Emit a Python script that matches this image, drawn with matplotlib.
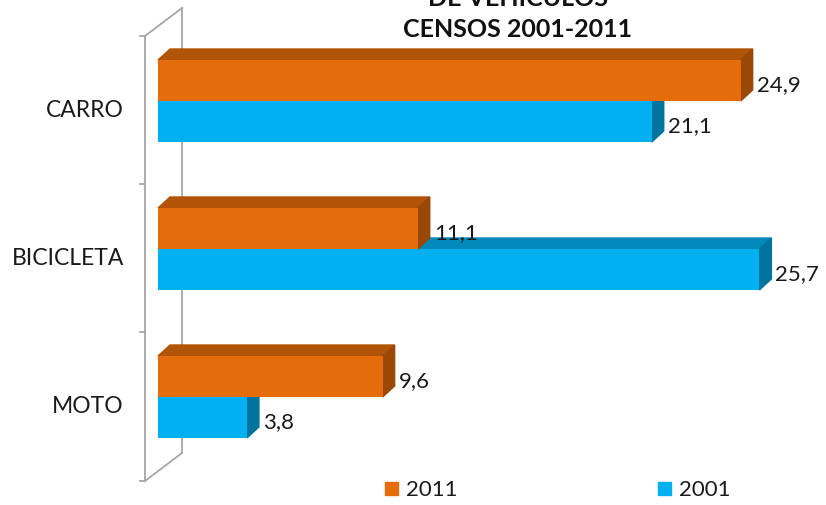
import numpy as np
import matplotlib.pyplot as plt
from matplotlib.patches import Polygon

plt.rcParams['font.family'] = ['Lato', 'DejaVu Sans']

categories = ["CARRO", "BICICLETA", "MOTO"]
years = ["2011", "2001"]
v2011 = [24.9, 11.1, 9.6]
v2001 = [21.1, 25.7, 3.8]

colors = {
    "2011": ("#E46C0A", "#B25407", "#994805"),
    "2001": ("#00B0F0", "#0089BA", "#00739E"),
}

# pixel layout of the plot area
W, H = 826, 506
X0, SX = 158, 23.4      # px of value 0, px per unit
Y0, SY = 102, 148       # px of first category line, px per category
bar_h = 41 / SY
ddx, ddy = 12 / SX, -11 / SY

fig = plt.figure(figsize=(W / 100, H / 100), dpi=100)
ax = fig.add_axes([0, 0, 1, 1])
ax.set_xlim((0 - X0) / SX, (W - X0) / SX)
ax.set_ylim((H - Y0) / SY, (0 - Y0) / SY)
ax.axis('off')


def px(x, y):
    return ((x - X0) / SX, (y - Y0) / SY)


# back wall
wall = "#A6A6A6"
fx, fy0, fy1 = 145, 37, 482
bx, by0, by1 = 182, 9, 454
for (x1, y1), (x2, y2) in [((fx, fy0), (fx, fy1)), ((bx, by0), (bx, by1)),
                           ((fx, fy0), (bx, by0)), ((fx, fy1), (bx, by1))]:
    p1, p2 = px(x1, y1), px(x2, y2)
    ax.plot([p1[0], p2[0]], [p1[1], p2[1]], color=wall, lw=1.3, zorder=1)
for ty in [37, 185, 333, 482]:
    p1, p2 = px(140, ty), px(fx, ty)
    ax.plot([p1[0], p2[0]], [p1[1], p2[1]], color=wall, lw=1.3, zorder=1)

pos = np.arange(len(categories))


def bar3d(y_top, vals, key, z):
    front, top, side = colors[key]
    ax.barh(y_top, vals, height=bar_h, align='edge', color=front, zorder=z + 0.5)
    for yt, v in zip(y_top, vals):
        yb = yt + bar_h
        ax.add_patch(Polygon([(0, yt), (v, yt), (v + ddx, yt + ddy), (ddx, yt + ddy)],
                             closed=True, color=top, zorder=z))
        ax.add_patch(Polygon([(v, yt), (v + ddx, yt + ddy), (v + ddx, yb + ddy), (v, yb)],
                             closed=True, color=side, zorder=z))
        ax.text(v + ddx + 4 / SX, yt + bar_h / 2 + 4 / SY, f"{v:.1f}".replace(".", ","),
                fontsize=16, color="#1a1a1a", va='center', ha='left', zorder=10)


bar3d(pos, v2001, "2001", 2)
bar3d(pos - bar_h, v2011, "2011", 4)

for p, c in zip(pos, categories):
    ax.text(*px(124, Y0 + p * SY + 9), c, fontsize=16.5, ha='right', va='center',
            color="#1a1a1a")

# title (partly cut at the top, as in the source)
ax.text(*px(518, -1), "DE VEHÍCULOS", fontsize=18, fontweight='bold',
        ha='center', va='center', color="#111111")
ax.text(*px(518, 30), "CENSOS 2001-2011", fontsize=18, fontweight='bold',
        ha='center', va='center', color="#111111")

# legend
for lx, key in [(385, "2011"), (658, "2001")]:
    x1, y1 = px(lx, 483)
    x2, y2 = px(lx + 13, 496)
    ax.add_patch(Polygon([(x1, y1), (x2, y1), (x2, y2), (x1, y2)], closed=True,
                         color=colors[key][0]))
    ax.text(*px(lx + 21, 490), key, fontsize=16, ha='left', va='center',
            color="#1a1a1a")

fig.savefig("out.png", dpi=100)
